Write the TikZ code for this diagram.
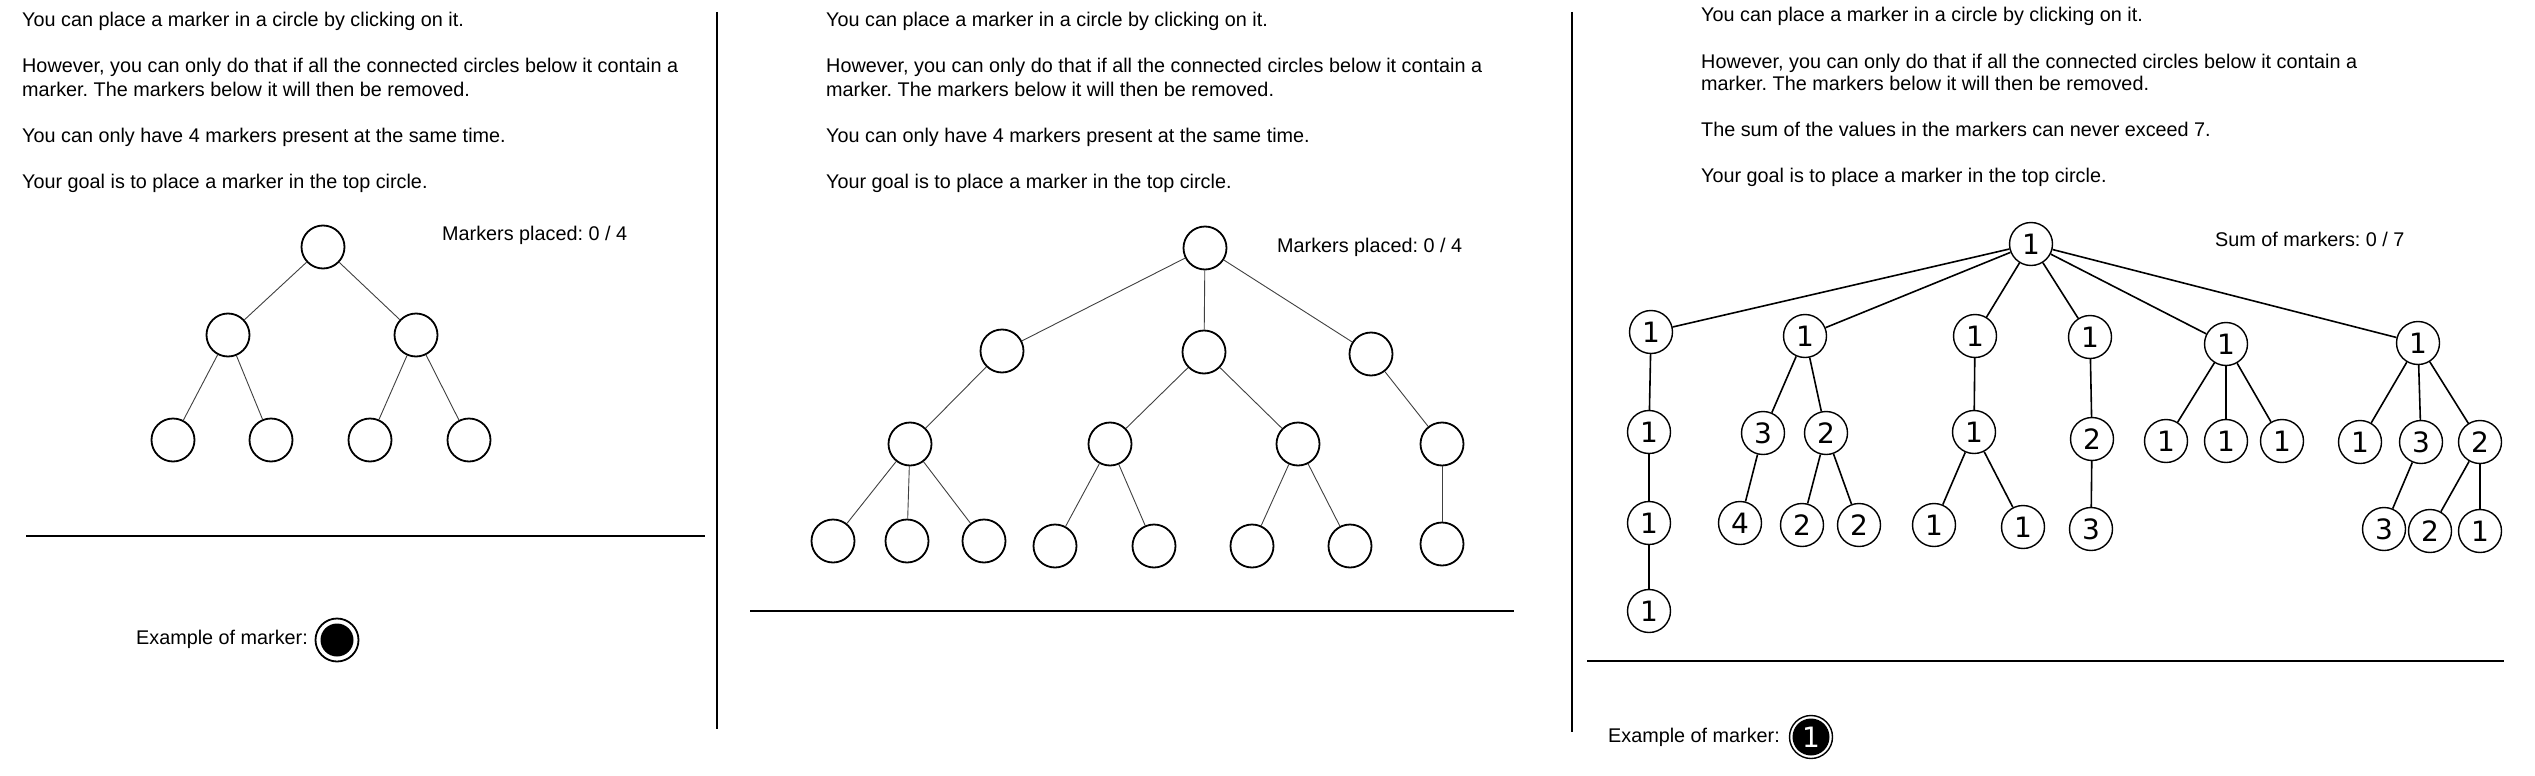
\documentclass[tikz,border=0pt]{standalone}
\usepackage{fontspec}
\setmainfont{Liberation Sans}
\newfontfamily\numfont{DejaVu Sans}
\frenchspacing

\begin{document}
\begin{tikzpicture}[x=1pt, y=-1pt,
  txt/.style={anchor=base west, inner sep=0, font=\fontsize{19.8}{23}\selectfont},
  spot/.style={circle, draw, line width=1.8pt, minimum size=43pt, inner sep=0},
  numspot/.style={circle, draw, line width=1.4pt, minimum size=43pt, inner sep=0, font=\numfont\fontsize{28}{28}\selectfont},
  link/.style={line width=0.9pt, black!75},
  numlink/.style={line width=1.6pt},
  rule/.style={line width=1.8pt}]
  \useasboundingbox (0,0) rectangle (2535,776);

  % Left panel
  \node[txt] (intro1) at (22,27) {You can place a marker in a circle by clicking on it.};
  \node[txt] (onlyif1) at (22,73) {However, you can only do that if all the connected circles below it contain a};
  \node[txt] (removed1) at (22,96) {marker. The markers below it will then be removed.};
  \node[txt] (limit1) at (22,142) {You can only have 4 markers present at the same time.};
  \node[txt] (goal1) at (22,188) {Your goal is to place a marker in the top circle.};
  \node[txt] (count1) at (442,240) {Markers placed: 0 / 4};

  \node[spot] (a) at (323,247) {};
  \node[spot] (a1) at (228,335) {};
  \node[spot] (a2) at (416,335) {};
  \node[spot] (a11) at (173,440) {};
  \node[spot] (a12) at (271,440) {};
  \node[spot] (a21) at (370,440) {};
  \node[spot] (a22) at (469,440) {};
  \draw[link] (a) -- (a1) (a) -- (a2);
  \draw[link] (a1) -- (a11) (a1) -- (a12) (a2) -- (a21) (a2) -- (a22);

  \draw[rule] (26,536) -- (705,536);
  \node[txt] (example1) at (136,644) {Example of marker:};
  \node[spot] (marker1) at (337,640) {};
  \node[circle, fill, minimum size=33pt, inner sep=0] (dot1) at (marker1) {};

  \draw[rule] (717,12) -- (717,729);

  % Middle panel
  \node[txt] (intro2) at (826,27) {You can place a marker in a circle by clicking on it.};
  \node[txt] (onlyif2) at (826,73) {However, you can only do that if all the connected circles below it contain a};
  \node[txt] (removed2) at (826,96) {marker. The markers below it will then be removed.};
  \node[txt] (limit2) at (826,142) {You can only have 4 markers present at the same time.};
  \node[txt] (goal2) at (826,188) {Your goal is to place a marker in the top circle.};
  \node[txt] (count2) at (1277,252) {Markers placed: 0 / 4};

  \node[spot] (b) at (1205,248) {};
  \node[spot] (b1) at (1002,351) {};
  \node[spot] (b2) at (1204,352) {};
  \node[spot] (b3) at (1371,354) {};
  \node[spot] (b11) at (910,444) {};
  \node[spot] (b21) at (1110,444) {};
  \node[spot] (b22) at (1298,444) {};
  \node[spot] (b31) at (1442,444) {};
  \node[spot] (b111) at (833,541) {};
  \node[spot] (b112) at (907,541) {};
  \node[spot] (b113) at (984,541) {};
  \node[spot] (b211) at (1055,546) {};
  \node[spot] (b212) at (1154,546) {};
  \node[spot] (b221) at (1252,546) {};
  \node[spot] (b222) at (1350,546) {};
  \node[spot] (b311) at (1442,544) {};
  \draw[link] (b) -- (b1) (b) -- (b2) (b) -- (b3);
  \draw[link] (b1) -- (b11) (b2) -- (b21) (b2) -- (b22) (b3) -- (b31);
  \draw[link] (b11) -- (b111) (b11) -- (b112) (b11) -- (b113);
  \draw[link] (b21) -- (b211) (b21) -- (b212) (b22) -- (b221) (b22) -- (b222);
  \draw[link] (b31) -- (b311);

  \draw[rule] (750,611) -- (1514,611);

  \draw[rule] (1572,12) -- (1572,732);

  % Right panel
  \node[txt] (intro3) at (1701,22) {You can place a marker in a circle by clicking on it.};
  \node[txt] (onlyif3) at (1701,68) {However, you can only do that if all the connected circles below it contain a};
  \node[txt] (removed3) at (1701,91) {marker. The markers below it will then be removed.};
  \node[txt] (limit3) at (1701,136) {The sum of the values in the markers can never exceed 7.};
  \node[txt] (goal3) at (1701,182) {Your goal is to place a marker in the top circle.};
  \node[txt] (count3) at (2215,246) {Sum of markers: 0 / 7};

  \node[numspot] (c) at (2031,244) {1};
  \node[numspot] (c1) at (1651,332) {1};
  \node[numspot] (c2) at (1805,336) {1};
  \node[numspot] (c3) at (1975,336) {1};
  \node[numspot] (c4) at (2090,337) {1};
  \node[numspot] (c5) at (2226,344) {1};
  \node[numspot] (c6) at (2418,343) {1};
  \node[numspot] (c11) at (1649,432) {1};
  \node[numspot] (c21) at (1763,433) {3};
  \node[numspot] (c22) at (1826,433) {2};
  \node[numspot] (c31) at (1974,432) {1};
  \node[numspot] (c41) at (2092,439) {2};
  \node[numspot] (c51) at (2166,441) {1};
  \node[numspot] (c52) at (2226,441) {1};
  \node[numspot] (c53) at (2282,441) {1};
  \node[numspot] (c61) at (2360,442) {1};
  \node[numspot] (c62) at (2421,442) {3};
  \node[numspot] (c63) at (2480,442) {2};
  \node[numspot] (c111) at (1649,523) {1};
  \node[numspot] (c211) at (1740,523) {4};
  \node[numspot] (c221) at (1802,525) {2};
  \node[numspot] (c222) at (1859,525) {2};
  \node[numspot] (c311) at (1934,525) {1};
  \node[numspot] (c312) at (2023,527) {1};
  \node[numspot] (c411) at (2091,529) {3};
  \node[numspot] (c621) at (2384,529) {3};
  \node[numspot] (c631) at (2430,531) {2};
  \node[numspot] (c632) at (2480,531) {1};
  \node[numspot] (c1111) at (1649,611) {1};
  \draw[numlink] (c) -- (c1) (c) -- (c2) (c) -- (c3) (c) -- (c4) (c) -- (c5) (c) -- (c6);
  \draw[numlink] (c1) -- (c11) (c11) -- (c111) (c111) -- (c1111);
  \draw[numlink] (c2) -- (c21) (c2) -- (c22) (c21) -- (c211) (c22) -- (c221) (c22) -- (c222);
  \draw[numlink] (c3) -- (c31) (c31) -- (c311) (c31) -- (c312);
  \draw[numlink] (c4) -- (c41) (c41) -- (c411);
  \draw[numlink] (c5) -- (c51) (c5) -- (c52) (c5) -- (c53);
  \draw[numlink] (c6) -- (c61) (c6) -- (c62) (c6) -- (c63);
  \draw[numlink] (c62) -- (c621) (c63) -- (c631) (c63) -- (c632);

  \draw[rule] (1587,661) -- (2504,661);
  \node[txt] (example3) at (1608,742) {Example of marker:};
  \node[numspot] (marker3) at (1811,737) {};
  \node[circle, fill, minimum size=37pt, inner sep=0, text=white, font=\numfont\fontsize{28}{28}\selectfont] (dot3) at (marker3) {1};
\end{tikzpicture}
\end{document}
